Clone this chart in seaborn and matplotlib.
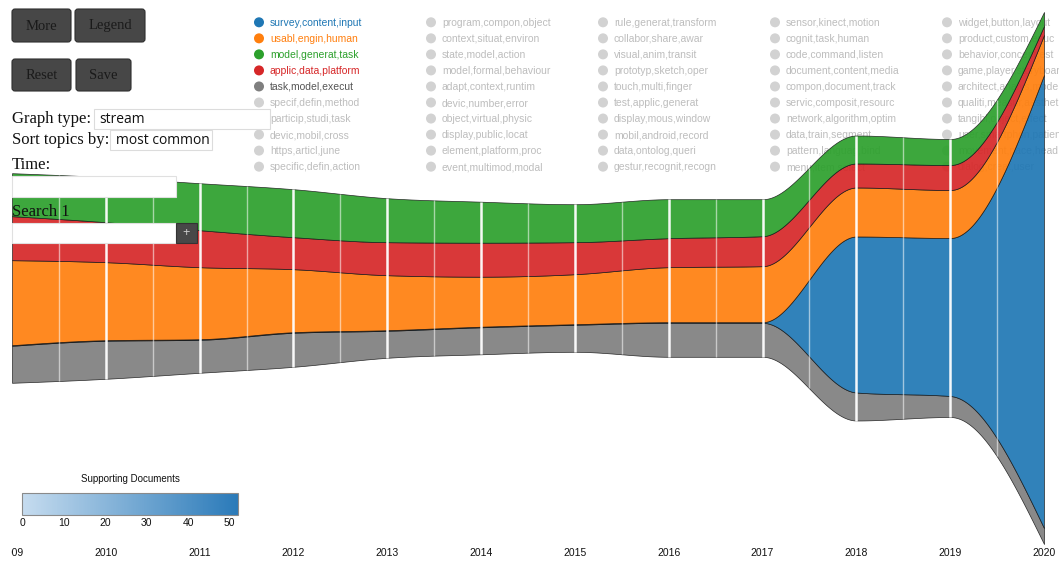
import numpy as np
import matplotlib
matplotlib.use("Agg")
import matplotlib.pyplot as plt
import seaborn as sns
from matplotlib.patches import FancyBboxPatch, Rectangle
from matplotlib.colors import LinearSegmentedColormap, Normalize
import matplotlib.cm as cm

# ---------------- data ----------------
years = [2009, 2010, 2011, 2012, 2013, 2014, 2015, 2016, 2017, 2018, 2019, 2020]
# stream layers, bottom to top
layer_names = ["task,model,execut", "survey,content,input", "usabl,engin,human",
               "applic,data,platform", "model,generat,task"]
gray_vals   = [37, 38, 33, 34, 27, 27, 27, 34, 34, 28, 21, 16]
blue_vals   = [0.6, 0.6, 0.6, 0.6, 0.6, 0.6, 0.6, 0.6, 0.6, 156, 158, 453]
orange_vals = [85, 78, 72, 63, 55, 50, 50, 55, 56, 49, 48, 40]
red_vals    = [44, 40, 37, 32, 33, 34, 32, 29, 30, 24, 25, 9]
green_vals  = [43, 45, 47, 48, 44, 41, 38, 39, 37, 28, 26, 14]

legend_col1 = ["survey,content,input", "usabl,engin,human", "model,generat,task",
               "applic,data,platform", "task,model,execut", "specif,defin,method",
               "particip,studi,task", "devic,mobil,cross", "https,articl,june",
               "specific,defin,action"]
legend_col2 = ["program,compon,object", "context,situat,environ", "state,model,action",
               "model,formal,behaviour", "adapt,context,runtim", "devic,number,error",
               "object,virtual,physic", "display,public,locat", "element,platform,proc",
               "event,multimod,modal"]
legend_col3 = ["rule,generat,transform", "collabor,share,awar", "visual,anim,transit",
               "prototyp,sketch,oper", "touch,multi,finger", "test,applic,generat",
               "display,mous,window", "mobil,android,record", "data,ontolog,queri",
               "gestur,recognit,recogn"]
legend_col4 = ["sensor,kinect,motion", "cognit,task,human", "code,command,listen",
               "document,content,media", "compon,document,track", "servic,composit,resourc",
               "network,algorithm,optim", "data,train,segment", "pattern,languag,bind",
               "menu,item,select"]
legend_col5 = ["widget,button,layout", "product,custom,educ", "behavior,concept,est",
               "game,player,storyboard", "architect,analys,model", "qualiti,measur,aesthet",
               "tangibl,object,effect", "user,smartphon,patient", "movement,pace,head",
               "dialog,creat,user"]
highlight_colors = ["#1f77b4", "#ff7f0e", "#2ca02c", "#d62728", "#7f7f7f"]

cbar_ticks = [0, 10, 20, 30, 40, 50]
cbar_max = 52

# ---------------- setup ----------------
W, H = 1059, 562
sns.set_theme(style="white")
plt.rcParams['font.family'] = ['Liberation Sans', 'DejaVu Sans']
pal = sns.color_palette("tab10")
layer_colors = [pal[7], pal[0], pal[1], pal[3], pal[2]]

fig = plt.figure(figsize=(W / 100, H / 100), dpi=100)
fig.patch.set_facecolor("white")

# legend layer (below stream)
leg = fig.add_axes([0, 0, 1, 1], zorder=0)
leg.set_xlim(0, W); leg.set_ylim(H, 0); leg.axis("off")
cols = [legend_col1, legend_col2, legend_col3, legend_col4, legend_col5]
col_x = [259, 431, 603, 775, 947]
for c, (labels, cx) in enumerate(zip(cols, col_x)):
    for r, lab in enumerate(labels):
        cy = 22.3 + 16.04 * r
        if c == 0 and r < 5:
            dc = highlight_colors[r]
            tc = "#555555" if r == 4 else dc
        else:
            dc, tc = "#d2d2d2", "#bdbdbd"
        leg.scatter([cx], [cy], s=52, color=dc, edgecolors="none")
        leg.text(cx + 11, cy + 0.5, lab, color=tc, fontsize=7.5, va="center", ha="left")

# ---------------- stream ----------------
def mono_interp(x, y, xs):
    x = np.asarray(x, float); y = np.asarray(y, float)
    n = len(x)
    h = np.diff(x); s = np.diff(y) / h
    t = np.zeros(n)
    for i in range(1, n - 1):
        h0, h1, s0, s1 = h[i - 1], h[i], s[i - 1], s[i]
        p = (s0 * h1 + s1 * h0) / (h0 + h1)
        t[i] = (np.sign(s0) + np.sign(s1)) * min(abs(s0), abs(s1), 0.5 * abs(p))
    t[0] = (3 * s[0] - t[1]) / 2
    t[-1] = (3 * s[-1] - t[-2]) / 2
    idx = np.clip(np.searchsorted(x, xs, side="right") - 1, 0, n - 2)
    hh = h[idx]
    u = (xs - x[idx]) / hh
    h00 = 2 * u**3 - 3 * u**2 + 1
    h10 = u**3 - 2 * u**2 + u
    h01 = -2 * u**3 + 3 * u**2
    h11 = u**3 - u**2
    return h00 * y[idx] + h10 * hh * t[idx] + h01 * y[idx + 1] + h11 * hh * t[idx + 1]

layers = np.array([gray_vals, blue_vals, orange_vals, red_vals, green_vals], float)
total = layers.sum(axis=0)
bounds = np.vstack([-total / 2, -total / 2 + np.cumsum(layers, axis=0)])
xs = np.linspace(years[0], years[-1], 1200)
bi = np.array([mono_interp(years, b, xs) for b in bounds])
thick = np.clip(np.diff(bi, axis=0), 0, None)

px_per_year = (1044 - 12) / 11
ax = fig.add_axes([11 / W, 0, (W - 11) / W, 1], zorder=1)
ax.set_facecolor("none")
polys = ax.stackplot(xs, *thick, baseline="sym", colors=layer_colors, alpha=0.92,
                     labels=layer_names)
for p in polys:
    p.set_edgecolor((0.1, 0.1, 0.1, 0.22))
    p.set_linewidth(0.5)
ax.set_xlim(2009 - 1 / px_per_year, 2020 + (W - 1044) / px_per_year)
ax.set_ylim(-(H - 278), 278)
ax.axis("off")

tot_i = thick.sum(axis=0)
for k in range(21):
    xv = 2009.5 + 0.5 * k
    j = np.argmin(np.abs(xs - xv))
    full = (k % 2 == 1)
    ax.vlines(xv, -tot_i[j] / 2, tot_i[j] / 2, colors="white",
              linewidth=1.8 if full else 1.0, alpha=0.95 if full else 0.55, zorder=5)

for y in years:
    ax.text(y, 278 - 553, str(y), ha="center", va="center", fontsize=7.5,
            color="#111111", clip_on=True)

# ---------------- UI overlay ----------------
ui = fig.add_axes([0, 0, 1, 1], zorder=3)
ui.set_xlim(0, W); ui.set_ylim(H, 0); ui.axis("off")
ui.set_facecolor("none")

def button(x0, y0, x1, y1, label):
    ui.add_patch(FancyBboxPatch((x0 + 3, y0 + 3), x1 - x0 - 6, y1 - y0 - 6,
                                boxstyle="round,pad=3", facecolor="#474747",
                                edgecolor="#2e2e2e", linewidth=0.8))
    ui.text((x0 + x1) / 2, (y0 + y1) / 2 + 0.5, label, ha="center", va="center",
            fontsize=10.5, family="Liberation Serif", color="#1a1a1a")

button(12, 9, 71, 42, "More")
button(75, 9, 145, 42, "Legend")
button(12, 59, 71, 91, "Reset")
button(76, 59, 131, 91, "Save")

serif = dict(family="Liberation Serif", fontsize=12, color="#111111", va="center", ha="left")
ui.text(12, 119, "Graph type:", **serif)
ui.add_patch(Rectangle((94, 109), 176, 20, facecolor="white", edgecolor="#dcdcdc", lw=0.8))
ui.text(99, 119.5, "stream", family="Open Sans", fontsize=10, va="center", color="#111111")
ui.text(12, 140, "Sort topics by:", **serif)
ui.add_patch(Rectangle((110, 130), 102, 20, facecolor="white", edgecolor="#dcdcdc", lw=0.8))
ui.text(116, 140.5, "most common", family="Open Sans", fontsize=10, va="center", color="#111111")
ui.text(12, 165, "Time:", **serif)
ui.add_patch(Rectangle((12, 176), 164, 21, facecolor="white", edgecolor="#e0e0e0", lw=0.8))
ui.text(12, 212, "Search 1", **serif)
ui.add_patch(Rectangle((12, 223), 164, 20, facecolor="white", edgecolor="#e0e0e0", lw=0.8))
ui.add_patch(Rectangle((176, 223), 21, 20, facecolor="#484848", edgecolor="#333333", lw=0.8))
ui.text(186.5, 233, "+", ha="center", va="center", fontsize=9, color="#cfcfcf")

# ---------------- colour scale ----------------
cmap = LinearSegmentedColormap.from_list("docs", ["#c6dcef", "#2a7ab9"])
cax = fig.add_axes([22 / W, 1 - 515 / H, 216 / W, 22 / H], zorder=3)
cb = fig.colorbar(cm.ScalarMappable(norm=Normalize(0, cbar_max), cmap=cmap), cax=cax,
                  orientation="horizontal", ticks=cbar_ticks)
cb.outline.set_edgecolor("#8a8a8a")
cb.outline.set_linewidth(0.8)
cax.tick_params(length=0, labelsize=7.5, pad=2, colors="#111111")
fig.text(130 / W, 1 - 479 / H, "Supporting Documents", ha="center", va="center",
         fontsize=7, color="#111111")

fig.savefig("out.png", dpi=100, facecolor="white")
